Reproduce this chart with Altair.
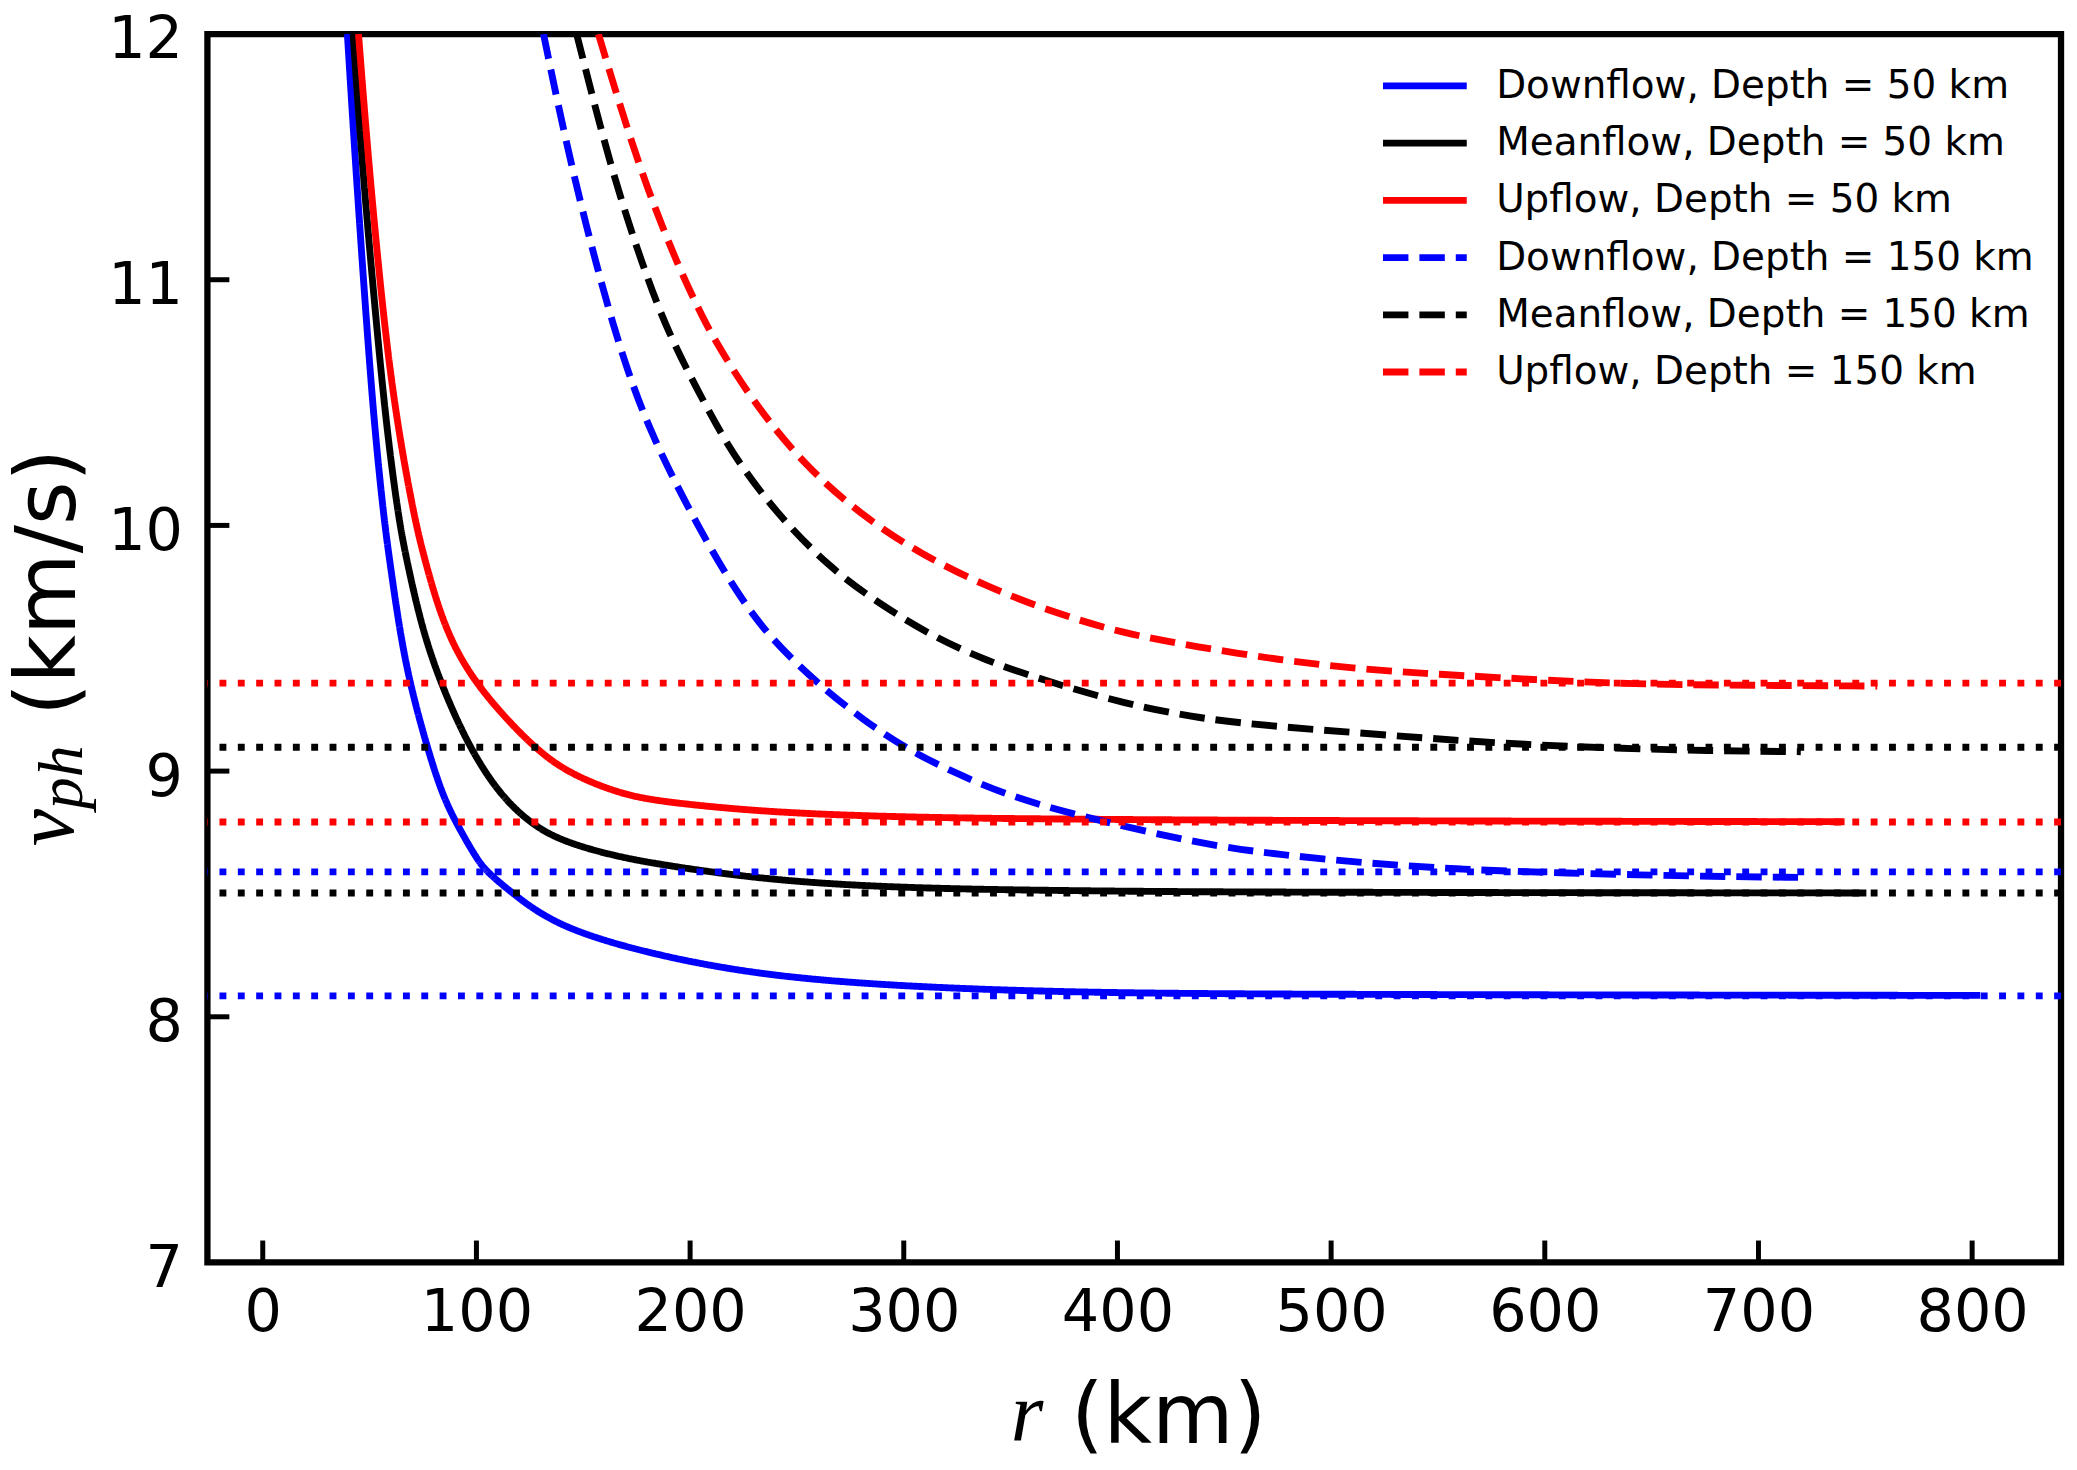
import altair as alt
import pandas as pd

# ---------------- data ----------------
series_names = [
    "Downflow, Depth = 50 km",
    "Meanflow, Depth = 50 km",
    "Upflow, Depth = 50 km",
    "Downflow, Depth = 150 km",
    "Meanflow, Depth = 150 km",
    "Upflow, Depth = 150 km",
]
series_colors = ["#0000ff", "#000000", "#ff0000", "#0000ff", "#000000", "#ff0000"]

r_down50 = [39.6, 43.5, 48.9, 52.6, 56.8, 59.4, 63.8, 68.8, 76.8, 83.8, 90.2, 100.3, 104.9,
            116.6, 138.4, 185.1, 231.7, 278.4, 325.0, 371.7, 437.0, 600.0, 803.8]
v_down50 = [12.0, 11.454, 10.778, 10.372, 10.020, 9.857, 9.587, 9.357, 9.100, 8.910, 8.793, 8.640, 8.590,
            8.504, 8.362, 8.247, 8.173, 8.136, 8.115, 8.102, 8.093, 8.089, 8.087]

r_mean50 = [42.3, 46.6, 53.6, 58.3, 63.7, 67.4, 74.3, 83.2, 96.4, 110.4, 124.4, 138.4, 161.7,
            185.1, 231.7, 278.4, 325.0, 371.7, 437.0, 600.0, 750.5]
v_mean50 = [12.0, 11.454, 10.778, 10.372, 10.020, 9.857, 9.587, 9.357, 9.100, 8.910, 8.793, 8.720, 8.660,
            8.620, 8.562, 8.533, 8.520, 8.514, 8.508, 8.505, 8.504]

r_up50 = [44.8, 49.7, 57.2, 63.7, 71.2, 75.9, 84.7, 98.7, 125.9, 143.1, 166.4, 185.1,
          231.7, 278.4, 325.0, 371.7, 446.4, 600.0, 740.3]
v_up50 = [12.0, 11.454, 10.778, 10.372, 10.020, 9.857, 9.587, 9.357, 9.100, 8.991, 8.910, 8.876,
          8.836, 8.818, 8.809, 8.805, 8.800, 8.796, 8.794]

r_down150 = [131.4, 144.3, 164.5, 181.2, 204.7, 219.3, 235.3, 259.4, 281.0, 302.1, 324.3, 346.1,
             376.1, 440.2, 475.9, 514.8, 561.5, 608.2, 670.4, 721.4]
v_down150 = [12.0, 11.454, 10.778, 10.372, 9.979, 9.763, 9.560, 9.357, 9.208, 9.086, 8.991, 8.910,
             8.829, 8.700, 8.660, 8.626, 8.599, 8.585, 8.572, 8.567]

r_mean150 = [146.9, 162.8, 178.1, 190.0, 204.5, 214.6, 224.3, 242.1, 265.2, 286.2, 311.0, 337.2,
             370.2, 402.8, 438.5, 474.4, 525.7, 577.0, 631.5, 676.6, 719.8]
v_mean150 = [12.0, 11.454, 11.048, 10.778, 10.534, 10.372, 10.236, 10.033, 9.830, 9.695, 9.560, 9.452,
             9.357, 9.276, 9.213, 9.181, 9.147, 9.113, 9.093, 9.083, 9.079]

r_up150 = [157.1, 176.0, 194.7, 204.5, 209.9, 228.9, 254.3, 281.5, 307.6, 339.0, 371.7, 402.8,
           437.1, 475.9, 510.2, 544.4, 577.0, 615.9, 647.0, 679.7, 755.6]
v_up150 = [12.0, 11.454, 11.048, 10.873, 10.778, 10.507, 10.236, 10.033, 9.885, 9.749, 9.641, 9.560,
           9.506, 9.452, 9.418, 9.397, 9.381, 9.363, 9.354, 9.350, 9.346]

# horizontal dotted reference levels
ref_levels = [9.358, 9.097, 8.793, 8.590, 8.504, 8.085]
ref_colors = ["#ff0000", "#000000", "#ff0000", "#0000ff", "#000000", "#0000ff"]

x_ticks = [0, 100, 200, 300, 400, 500, 600, 700, 800]
y_ticks = [7, 8, 9, 10, 11, 12]

# ---------------- tables ----------------
all_r = [r_down50, r_mean50, r_up50, r_down150, r_mean150, r_up150]
all_v = [v_down50, v_mean50, v_up50, v_down150, v_mean150, v_up150]
rows = []
for name, rs, vs in zip(series_names, all_r, all_v):
    for r, v in zip(rs, vs):
        rows.append({"series": name, "r": r, "v": v})
curves_df = pd.DataFrame(rows)
ref_df = pd.DataFrame({"v": ref_levels, "c": ref_colors})

# ---------------- styling ----------------
W, H = 1859, 1232
LW = 6.9
SOLID = [1, 0]
DASH = [25.5, 11.0]
DOT = [6.9, 11.5]
series_dashes = [SOLID, SOLID, SOLID, DASH, DASH, DASH]
FONT = "DejaVu Sans"

xscale = alt.Scale(domain=[-25.9, 841.6], nice=False, zero=False)
yscale = alt.Scale(domain=[7, 12], nice=False, zero=False)

xaxis = alt.Axis(values=x_ticks, format="d", title="(km)", ticks=False, domain=False, grid=False,
                 labelFontSize=59, labelFont=FONT, labelColor="black", labelPadding=21,
                 labelFlush=False, labelOverlap=False,
                 titleFont=FONT, titleFontSize=84, titleFontWeight="normal", titleColor="black",
                 titleX=963.5, titleY=181, titleAlign="center", titleBaseline="alphabetic")
yaxis = alt.Axis(values=y_ticks, format="d", title="(km/s)", ticks=False, domain=False, grid=False,
                 labelFontSize=59, labelFont=FONT, labelColor="black", labelPadding=25,
                 labelOffset=6, labelOverlap=False,
                 titleFont=FONT, titleFontSize=84, titleFontWeight="normal", titleColor="black",
                 titleX=-133, titleY=549.5, titleAngle=270, titleAlign="center",
                 titleBaseline="alphabetic")

legend = alt.Legend(title=None, orient="none", legendX=1196.5, legendY=27.5, padding=0,
                    symbolType="M-2,0H2", symbolSize=1764, symbolStrokeWidth=LW,
                    labelFont=FONT, labelFontSize=39, labelColor="black", labelLimit=900,
                    labelOffset=47, rowPadding=12.4)

curves = alt.Chart(curves_df).mark_line(strokeWidth=LW, interpolate="basis", clip=True).encode(
    x=alt.X("r:Q", scale=xscale, axis=xaxis),
    y=alt.Y("v:Q", scale=yscale, axis=yaxis),
    color=alt.Color("series:N", scale=alt.Scale(domain=series_names, range=series_colors), legend=legend),
    strokeDash=alt.StrokeDash("series:N", scale=alt.Scale(domain=series_names, range=series_dashes),
                              legend=legend),
    detail="series:N",
)

levels = alt.Chart(ref_df).mark_rule(strokeWidth=LW, strokeDash=DOT).encode(
    y=alt.Y("v:Q", scale=yscale, axis=yaxis),
    color=alt.Color("c:N", scale=None),
)

xtick_marks = alt.Chart(pd.DataFrame({"t": x_ticks})).mark_rule(strokeWidth=5, color="black").encode(
    x=alt.X("t:Q", scale=xscale, axis=xaxis),
    y=alt.value(H),
    y2=alt.value(H - 22),
)
ytick_marks = alt.Chart(pd.DataFrame({"t": y_ticks})).mark_rule(strokeWidth=5, color="black").encode(
    y=alt.Y("t:Q", scale=yscale, axis=yaxis),
    x=alt.value(0),
    x2=alt.value(22),
)

# italic math parts of the axis titles
r_label = alt.Chart(pd.DataFrame({"s": ["r"]})).mark_text(
    font="Liberation Serif", fontStyle="italic", fontSize=84, align="center",
    baseline="alphabetic", color="black").encode(text="s:N", x=alt.value(822), y=alt.value(1411))
v_label = alt.Chart(pd.DataFrame({"s": ["v"]})).mark_text(
    font="Liberation Serif", fontStyle="italic", fontSize=84, align="center", angle=270,
    baseline="alphabetic", color="black").encode(text="s:N", x=alt.value(-135), y=alt.value(796))
ph_label = alt.Chart(pd.DataFrame({"s": ["ph"]})).mark_text(
    font="Liberation Serif", fontStyle="italic", fontSize=64, align="center", angle=270,
    baseline="alphabetic", color="black").encode(text="s:N", x=alt.value(-126), y=alt.value(745.5))

chart = alt.layer(curves, levels, xtick_marks, ytick_marks, r_label, v_label, ph_label).properties(
    width=W, height=H,
    autosize=alt.AutoSizeParams(type="none"),
    padding={"left": 200, "top": 24, "right": 8, "bottom": 200},
    background="white",
).configure_view(stroke="black", strokeWidth=6.3)

chart.save("out.html", embed_options={"renderer": "svg", "actions": False})
